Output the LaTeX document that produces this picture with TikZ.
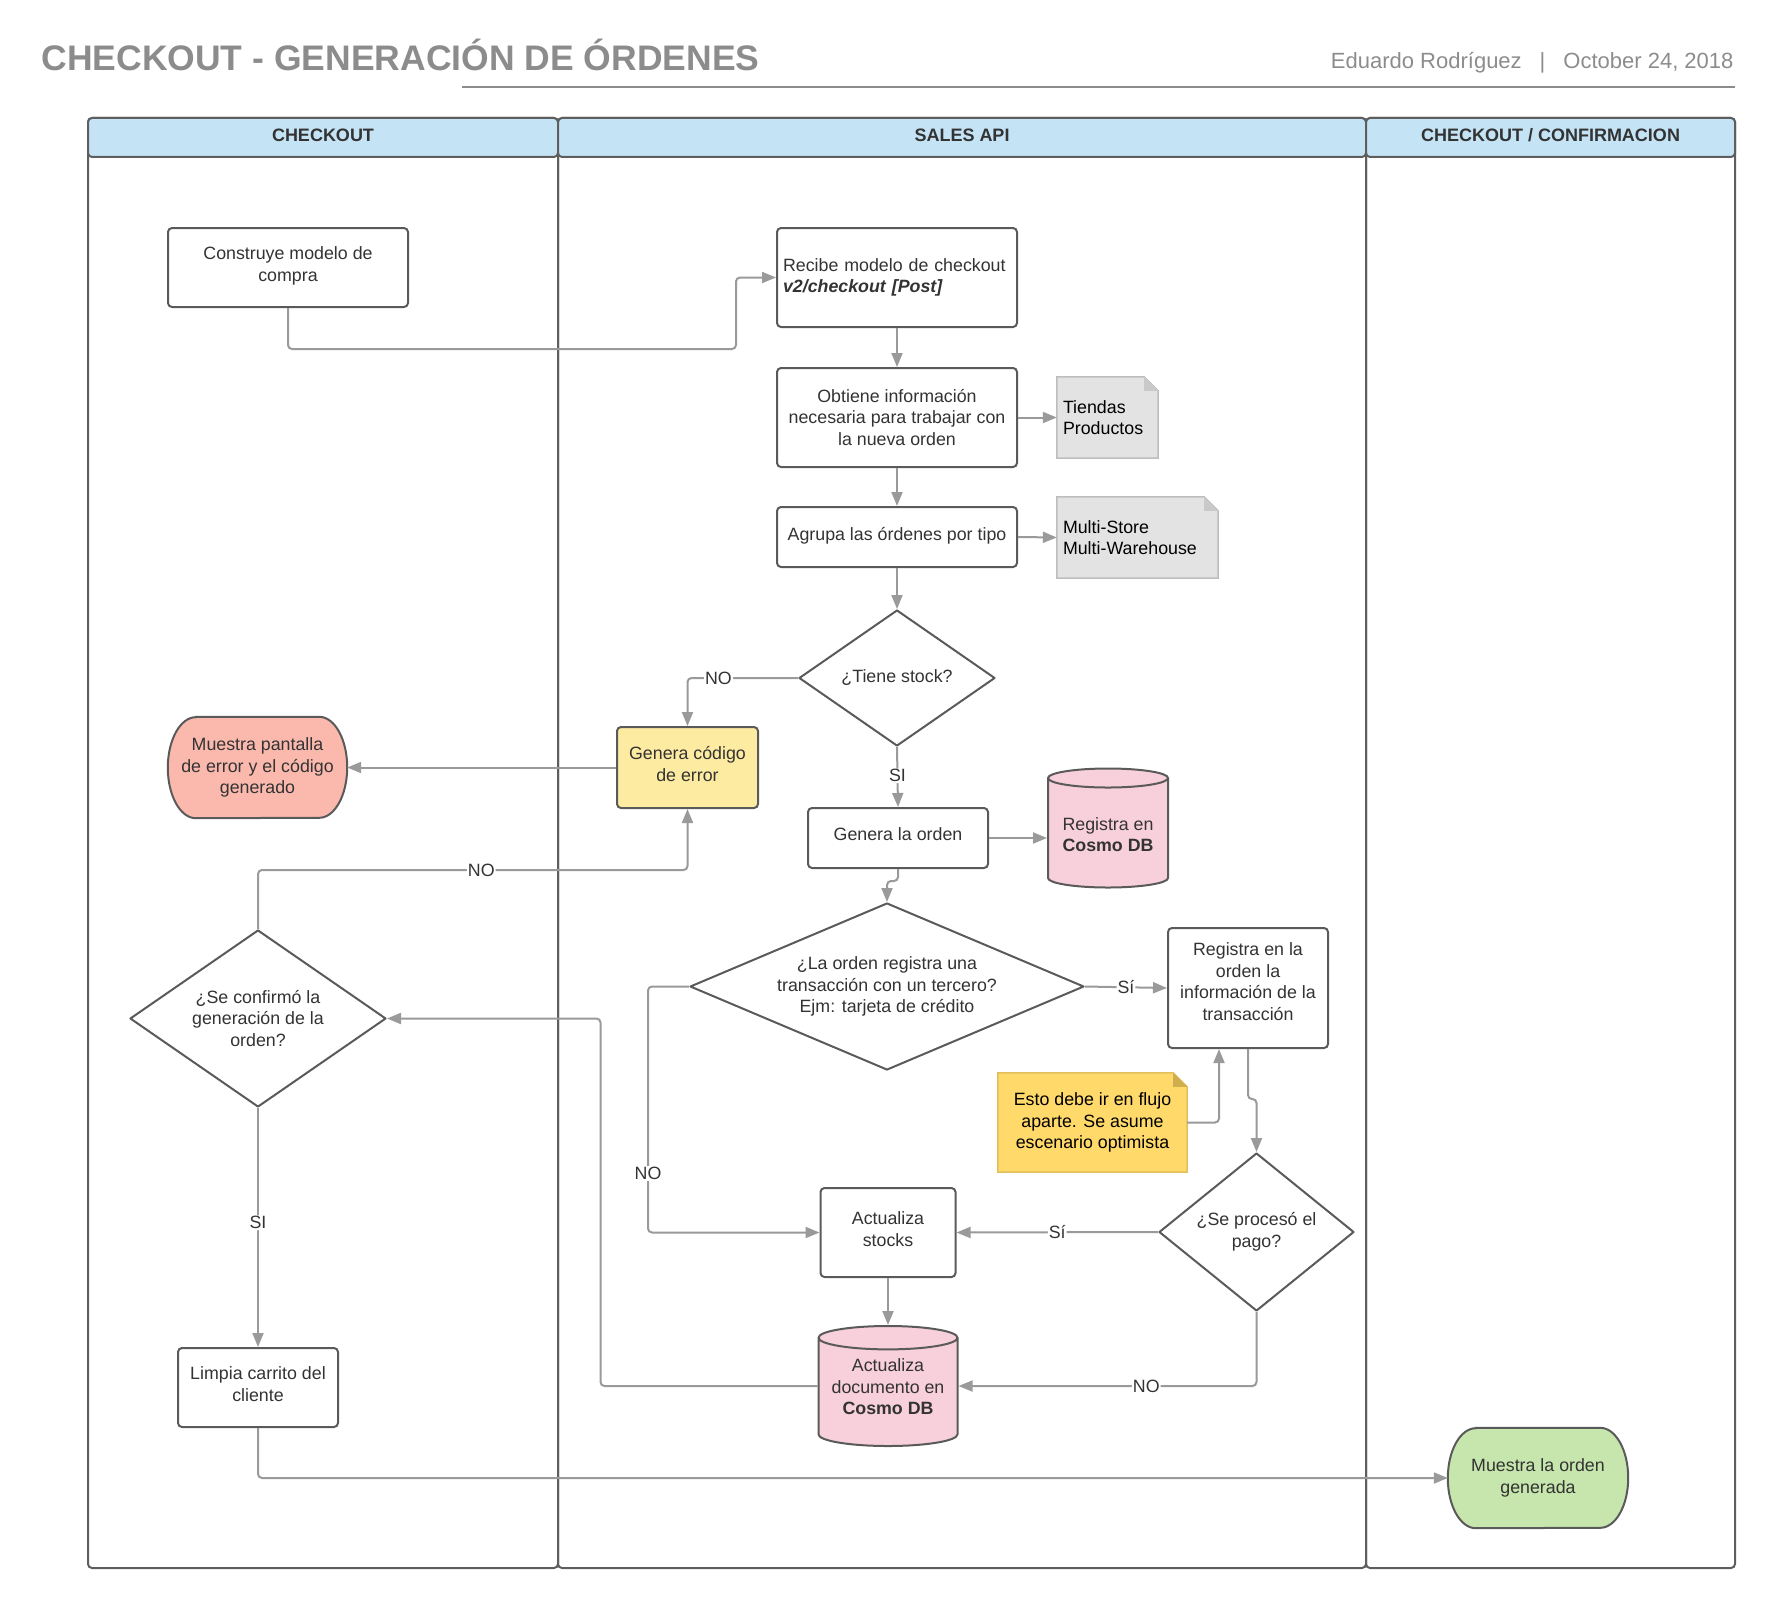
\documentclass[tikz,border=0pt]{standalone}
\usepackage{fontspec}
\setmainfont{Liberation Sans}
\usetikzlibrary{shapes.geometric,arrows.meta,positioning,calc,backgrounds}

\definecolor{lanehead}{HTML}{C4E4F6}
\definecolor{laneedge}{HTML}{5E5E5E}
\definecolor{boxedge}{HTML}{5A5A5A}
\definecolor{linegray}{HTML}{9A9A9A}
\definecolor{txt}{HTML}{333333}
\definecolor{titlegray}{HTML}{8C8C8C}
\definecolor{errred}{HTML}{FBB9AE}
\definecolor{codeyellow}{HTML}{FEEBA2}
\definecolor{dbpink}{HTML}{F8D0DB}
\definecolor{okgreen}{HTML}{C6E6AD}
\definecolor{notegray}{HTML}{E3E3E3}
\definecolor{notegrayedge}{HTML}{BDBDBD}
\definecolor{notegrayfold}{HTML}{C9C9C9}
\definecolor{noteyellow}{HTML}{FFD96A}
\definecolor{noteyellowedge}{HTML}{E3BF5C}
\definecolor{noteyellowfold}{HTML}{CFAE4E}

% note with folded corner: node, fill, edge, fold
\newcommand{\foldnote}[4]{%
  \begin{scope}[on background layer]
    \filldraw[fill=#2, draw=#3, line width=1.5pt] (#1.south west) -- (#1.north west) -- ([xshift=-14pt]#1.north east) -- ([yshift=-14pt]#1.north east) -- (#1.south east) -- cycle;
    \fill[#4] ([xshift=-14pt]#1.north east) -- ([yshift=-14pt]#1.north east) -- ([xshift=-14pt,yshift=-14pt]#1.north east) -- cycle;
  \end{scope}}

% terminal with elliptic ends: node, fill, half height
\newcommand{\terminal}[3]{%
  \begin{scope}[on background layer]
    \filldraw[fill=#2, draw=boxedge, line width=2pt] ([xshift=28pt]#1.north west) -- ([xshift=-28pt]#1.north east) arc[start angle=90, end angle=-90, x radius=28pt, y radius=#3] -- ([xshift=28pt]#1.south west) arc[start angle=270, end angle=90, x radius=28pt, y radius=#3] -- cycle;
  \end{scope}}

\begin{document}
\begin{tikzpicture}[x=1pt, y=-1pt, font=\fontsize{17.8}{21.5}\selectfont, text=txt,
    box/.style={draw=boxedge, line width=2pt, rounded corners=4pt, fill=white, align=center, inner sep=4pt, text depth=7pt},
    decision/.style={diamond, draw=boxedge, line width=2pt, line join=round, fill=white, align=center, inner sep=0pt},
    db/.style={cylinder, shape border rotate=90, aspect=0.2, draw=boxedge, line width=2pt, fill=dbpink, align=center, inner sep=2pt, anchor=shape center},
    termbox/.style={align=center, inner sep=0pt},
    notebox/.style={align=left, inner sep=6pt, text=black},
    flow/.style={draw=linegray, line width=2pt, rounded corners=4pt, -{Triangle[length=14pt,width=11pt]}},
    lbl/.style={fill=white, inner sep=1pt, text=txt},
    lanetitle/.style={font=\bfseries\fontsize{18}{21}\selectfont}]
    \useasboundingbox (0,0) rectangle (1776,1608);

    % Title
    \node[anchor=west, font=\bfseries\fontsize{35.5}{42}\selectfont, text=titlegray] (title) at (38,55) {CHECKOUT - GENERACIÓN DE ÓRDENES};
    \node[anchor=east, font=\fontsize{22}{26}\selectfont, text=titlegray] (author) at (1737,63) {Eduardo Rodríguez\hspace{18pt}|\hspace{18pt}October 24, 2018};
    \draw[titlegray, line width=2pt] (462,87) -- (1735,87);

    % Lanes
    \foreach \xa/\xb in {88/558, 558/1366, 1366/1735} {
      \draw[laneedge, line width=2pt, rounded corners=4pt] (\xa,118) rectangle (\xb,1568);
      \filldraw[fill=lanehead, draw=laneedge, line width=2pt, rounded corners=4pt] (\xa,118) rectangle (\xb,157);
    }
    \node[lanetitle] (laneA) at (323,135.5) {CHECKOUT};
    \node[lanetitle] (laneB) at (962,135.5) {SALES API};
    \node[lanetitle] (laneC) at (1550.5,135.5) {CHECKOUT / CONFIRMACION};

    % Steps
    \node[box, minimum width=240pt, minimum height=79pt] (construye) at (288,267.5) {Construye modelo de\\compra};
    \node[box, text depth=, minimum width=240pt, minimum height=99pt, align=left, text width=228pt] (recibe) at (897,277.5) {Recibe modelo de checkout\\\textbf{\textit{v2/checkout [Post]}}};
    \node[box, text depth=, minimum width=240pt, minimum height=99pt] (obtiene) at (897,417.5) {Obtiene información\\necesaria para trabajar con\\la nueva orden};
    \node[box, minimum width=240pt, minimum height=60pt] (agrupa) at (897,537) {Agrupa las órdenes por tipo};
    \node[notebox, minimum width=101pt, minimum height=81pt, text width=89pt] (tiendas) at (1107.5,417.5) {Tiendas\\Productos};
    \foldnote{tiendas}{notegray}{notegrayedge}{notegrayfold}
    \node[notebox, minimum width=161pt, minimum height=81pt, text width=149pt] (multi) at (1137.5,537.5) {Multi-Store\\Multi-Warehouse};
    \foldnote{multi}{notegray}{notegrayedge}{notegrayfold}

    \node[decision, shape aspect=1.44, minimum width=196pt, minimum height=136pt] (stock) at (897,678) {¿Tiene stock?};
    \node[box, fill=codeyellow, minimum width=141pt, minimum height=81pt] (errcode) at (687.5,767.5) {Genera código\\de error};
    \node[termbox, minimum width=179pt, minimum height=101pt] (errscreen) at (257.5,767.5) {Muestra pantalla\\de error y el código\\generado};
    \terminal{errscreen}{errred}{50.5pt}

    \node[box, minimum width=180pt, minimum height=60pt] (genorden) at (898,838) {Genera la orden};
    \node[db, minimum width=120pt, minimum height=119pt] (regdb) at (1108,828) {Registra en\\\textbf{Cosmo DB}};
    \node[decision, shape aspect=2.36, minimum width=394pt, minimum height=167pt] (tercero) at (887,986.5) {¿La orden registra una\\transacción con un tercero?\\Ejm: tarjeta de crédito};
    \node[box, minimum width=160pt, minimum height=120pt, text depth=13pt] (regtrans) at (1248,988) {Registra en la\\orden la\\información de la\\transacción};
    \node[termbox, text=black, minimum width=189pt, minimum height=99pt] (optimista) at (1092.5,1122.5) {Esto debe ir en flujo\\aparte. Se asume\\escenario optimista};
    \foldnote{optimista}{noteyellow}{noteyellowedge}{noteyellowfold}
    \node[decision, shape aspect=1.23, minimum width=195pt, minimum height=158pt] (pago) at (1256.5,1232) {¿Se procesó el\\pago?};
    \node[box, minimum width=135pt, minimum height=89pt] (stocks) at (888,1232.5) {Actualiza\\stocks};
    \node[db, minimum width=139pt, minimum height=120pt, text depth=14pt] (updb) at (888,1386) {Actualiza\\documento en\\\textbf{Cosmo DB}};

    \node[decision, shape aspect=1.45, minimum width=256pt, minimum height=177pt] (confirm) at (258,1018.5) {¿Se confirmó la\\generación de la\\orden?};
    \node[box, minimum width=160pt, minimum height=79pt] (limpia) at (258,1387.5) {Limpia carrito del\\cliente};
    \node[termbox, minimum width=180pt, minimum height=100pt] (showorder) at (1538,1478) {Muestra la orden\\generada};
    \terminal{showorder}{okgreen}{50pt}

    % Connectors
    \draw[flow] (construye.south) -- ++(0,41) -| ([xshift=-40pt]recibe.west) -- (recibe.west);
    \draw[flow] (recibe.south) -- (obtiene.north);
    \draw[flow] (obtiene.south) -- (agrupa.north);
    \draw[flow] (obtiene.east) -- (tiendas.west);
    \draw[flow] (agrupa.east) -- (multi.west);
    \draw[flow] (agrupa.south) -- (stock.north);
    \draw[flow] (stock.west) -| node[lbl, pos=0.36] {NO} (errcode.north);
    \draw[flow] (errcode.west) -- (errscreen.east);
    \draw[flow] (stock.south) -- node[lbl, pos=0.48] {SI} (genorden.north);
    \draw[flow] (genorden.east) -- (genorden.east -| regdb.west);
    \draw[flow] (genorden.south) -- ++(0,12) -| (tercero.north);
    \draw[flow] (tercero.east) -- node[lbl] {Sí} (regtrans.west);
    \draw[flow] (optimista.east) -| ([xshift=-29pt]regtrans.south);
    \draw[flow] (regtrans.south) -- ++(0,50) -| (pago.north);
    \draw[flow] (pago.west) -- node[lbl] {Sí} (stocks.east);
    \draw[flow] (tercero.west) -- ++(-41,0) |- node[lbl, pos=0.38] {NO} (stocks.west);
    \draw[flow] (stocks.south) -- (updb.north);
    \draw[flow] (pago.south) |- node[lbl, pos=0.685] {NO} (updb.shape center -| updb.east);
    \draw[flow] (updb.shape center -| updb.west) -- ++(-217,0) |- (confirm.east);
    \draw[flow] (confirm.north) -- ++(0,-59) -| node[lbl, pos=0.26] {NO} (errcode.south);
    \draw[flow] (confirm.south) -- node[lbl, pos=0.48] {SI} (limpia.north);
    \draw[flow] (limpia.south) |- (showorder.west);
\end{tikzpicture}
\end{document}
